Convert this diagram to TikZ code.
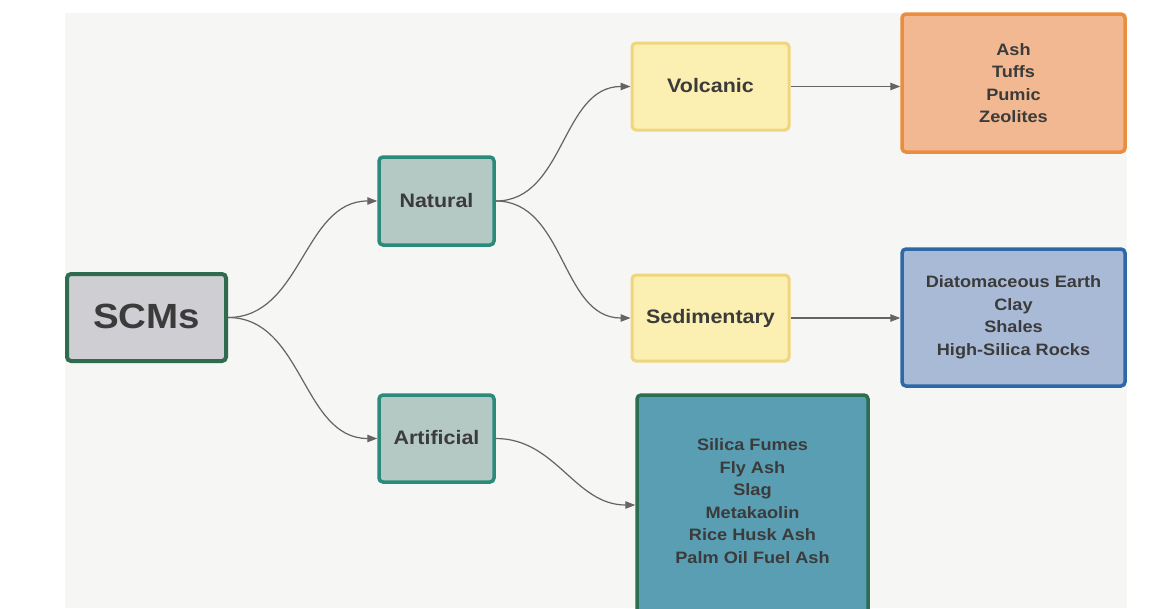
\documentclass[tikz,border=0pt]{standalone}
\usepackage{fontspec}
\setmainfont{Liberation Sans}
\newfontfamily\widesans[FakeStretch=1.1]{Liberation Sans}
\usetikzlibrary{arrows.meta}
\definecolor{panel}{HTML}{F6F6F5}
\definecolor{txt}{HTML}{3B3B3B}
\definecolor{arr}{HTML}{676263}
\definecolor{scmfill}{HTML}{CFCED2}
\definecolor{scmline}{HTML}{2F6B4F}
\definecolor{natfill}{HTML}{B4C8C4}
\definecolor{natline}{HTML}{2B8B7A}
\definecolor{volfill}{HTML}{FCEFB2}
\definecolor{volline}{HTML}{EFD67D}
\definecolor{orfill}{HTML}{F2B892}
\definecolor{orline}{HTML}{EB8D3F}
\definecolor{blfill}{HTML}{A8BAD6}
\definecolor{blline}{HTML}{2D69A6}
\definecolor{tefill}{HTML}{5A9EB3}
\definecolor{teline}{HTML}{2D6E52}
\tikzset{
  box/.style={rectangle, rounded corners=4pt, inner sep=0pt, text=txt, align=center, font=\widesans\bfseries},
  mid/.style={box, font=\fontsize{19.5}{24}\widesans\bfseries},
  list/.style={box, font=\fontsize{16.5}{22.5}\widesans\bfseries},
  conn/.style={draw=arr, line width=1.2pt, -{Triangle[length=10pt,width=7.5pt]}},
}
\begin{document}
\begin{tikzpicture}[x=1pt,y=-1pt]
\useasboundingbox (0,0) rectangle (1156,608);
\clip (0,0) rectangle (1156,608);
\fill[panel] (65,13) rectangle (1127,608);
% nodes
\node[box, fill=scmfill, draw=scmline, line width=4pt, minimum width=159pt, minimum height=87pt, font=\fontsize{35}{40}\widesans\bfseries] (scm) at (146.5,317.5) {\raisebox{3pt}{SCMs}};
\node[mid, fill=natfill, draw=natline, line width=3.5pt, minimum width=115pt, minimum height=88pt] (nat) at (436.5,201) {\raisebox{1.5pt}{Natural}};
\node[mid, fill=natfill, draw=natline, line width=3.5pt, minimum width=115pt, minimum height=87pt] (art) at (436.5,438.5) {\raisebox{1.5pt}{Artificial}};
\node[mid, fill=volfill, draw=volline, line width=3pt, minimum width=157pt, minimum height=87pt] (vol) at (710.5,86.5) {\raisebox{2pt}{Volcanic}};
\node[mid, fill=volfill, draw=volline, line width=3pt, minimum width=157pt, minimum height=86pt] (sed) at (710.5,318) {\raisebox{1pt}{Sedimentary}};
\node[list, fill=orfill, draw=orline, line width=3.5pt, minimum width=223pt, minimum height=138pt] (vlist) at (1013.5,83) {Ash\\Tuffs\\Pumic\\Zeolites};
\node[list, fill=blfill, draw=blline, line width=3.5pt, minimum width=223pt, minimum height=137pt] (slist) at (1013.5,317.5) {Diatomaceous Earth\\Clay\\Shales\\High-Silica Rocks};
\node[box, fill=tefill, draw=teline, line width=3.5pt, minimum width=231pt, minimum height=220pt] (alist) at (752.5,505) {};
\node[list] (alisttext) at (752.5,501) {Silica Fumes\\Fly Ash\\Slag\\Metakaolin\\Rice Husk Ash\\Palm Oil Fuel Ash};
% connectors
\draw[conn] (scm.east) to[out=0,in=180] (nat.west);
\draw[conn] (scm.east) to[out=0,in=180] (art.west);
\draw[conn] (nat.east) to[out=0,in=180] (vol.west);
\draw[conn] (nat.east) to[out=0,in=180] (sed.west);
\draw[conn] (art.east) to[out=0,in=180] (alist.west);
\draw[conn] (vol.east) -- (vlist.west |- vol.east);
\draw[conn] (sed.east) -- (slist.west |- sed.east);
\end{tikzpicture}
\end{document}
